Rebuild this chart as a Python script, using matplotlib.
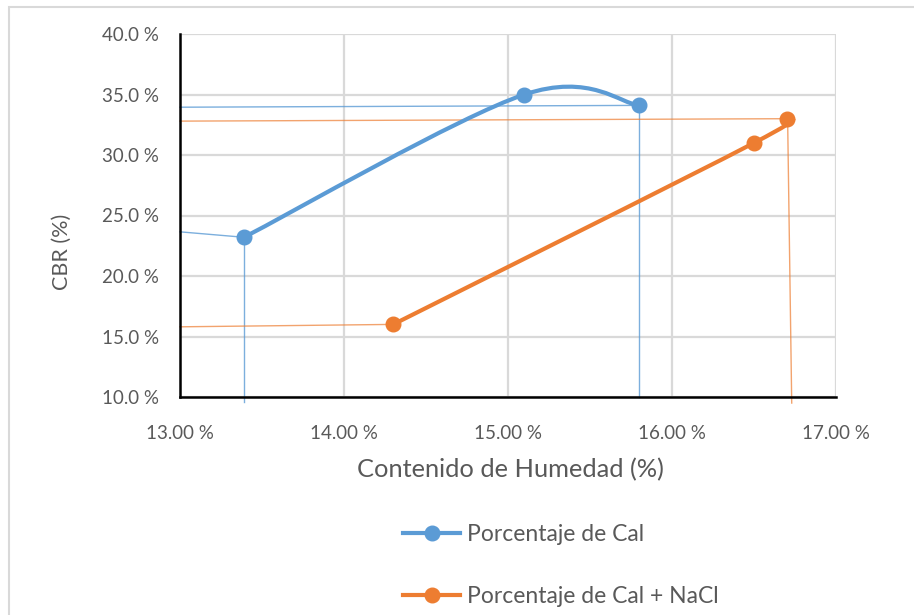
import matplotlib.pyplot as plt
import numpy as np
from matplotlib.path import Path
from matplotlib.patches import PathPatch, Rectangle
from matplotlib.lines import Line2D
from matplotlib.ticker import FuncFormatter

plt.rcParams['font.family'] = ['Lato', 'DejaVu Sans']

# =========================
# data
# =========================
humedad_cal = [13.39, 15.10, 15.80]
cbr_cal = [23.2, 35.0, 34.1]

humedad_nacl = [14.30, 16.50, 16.70]
cbr_nacl = [16.0, 31.0, 33.0]

# guide lines drawn by hand on the original chart (x list, y list)
guias_cal = [
    ([13.00, 15.80], [33.95, 34.10]),
    ([13.00, 13.39], [23.65, 23.20]),
    ([13.39, 13.39], [23.20, 9.60]),
    ([15.80, 15.80], [34.10, 10.00]),
]
guias_nacl = [
    ([13.00, 16.70], [32.80, 33.00]),
    ([13.00, 14.30], [15.80, 16.00]),
    ([16.705, 16.73], [33.00, 9.50]),
]

x_ticks = [13, 14, 15, 16, 17]
y_ticks = [10, 15, 20, 25, 30, 35, 40]

azul = "#5B9BD5"
naranja = "#ED7D31"
gris_txt = "#595959"


def smooth_path(xs, ys):
    # bezier segments like the smoothed line of a spreadsheet chart
    pts = np.column_stack([xs, ys])
    n = len(pts)
    verts = [pts[0]]
    codes = [Path.MOVETO]
    for i in range(n - 1):
        p0 = pts[i - 1] if i > 0 else pts[i]
        p1 = pts[i]
        p2 = pts[i + 1]
        p3 = pts[i + 2] if i + 2 < n else pts[i + 1]
        c1 = p1 + (p2 - p0) / 6.0
        c2 = p2 - (p3 - p1) / 6.0
        verts += [c1, c2, p2]
        codes += [Path.CURVE4] * 3
    return Path(verts, codes)


fig = plt.figure(figsize=(9.14, 6.15), dpi=100)
ax = fig.add_axes([180 / 914, 1 - 397 / 615, 656 / 914, 363 / 615])

# outer chart border (partly outside the picture)
fig.add_artist(Rectangle((9 / 914, -0.2), 1.2, 1.2 - 7 / 615,
                         transform=fig.transFigure, fill=False,
                         edgecolor="#d9d9d9", linewidth=1.5))

for gx, gy in guias_cal:
    ax.plot(gx, gy, color=azul, lw=1.0, alpha=0.8, clip_on=False, zorder=2)
for gx, gy in guias_nacl:
    ax.plot(gx, gy, color=naranja, lw=1.0, alpha=0.7, clip_on=False, zorder=2)

for xs, ys, c in [(humedad_cal, cbr_cal, azul), (humedad_nacl, cbr_nacl, naranja)]:
    ax.add_patch(PathPatch(smooth_path(xs, ys), facecolor="none",
                           edgecolor=c, lw=3.0, capstyle="round", zorder=3))
    ax.plot(xs, ys, linestyle="none", marker="o", markersize=10.5,
            color=c, zorder=4)

ax.set_xlim(13, 17)
ax.set_ylim(10, 40)
ax.set_xticks(x_ticks)
ax.set_yticks(y_ticks)
ax.xaxis.set_major_formatter(FuncFormatter(lambda v, p: f"{v:.2f} %"))
ax.yaxis.set_major_formatter(FuncFormatter(lambda v, p: f"{v:.1f} %"))
ax.tick_params(length=0, labelsize=13.5, labelcolor=gris_txt)
ax.tick_params(axis="x", pad=20)
ax.tick_params(axis="y", pad=15)
ax.grid(True, color="#d9d9d9", lw=1.6)
ax.set_axisbelow(True)
for s in ["top", "right"]:
    ax.spines[s].set_visible(False)
for s in ["left", "bottom"]:
    ax.spines[s].set_color("black")
    ax.spines[s].set_linewidth(1.8)
    ax.spines[s].set_zorder(2.5)

fig.text(510 / 914, 1 - 470 / 615, "Contenido de Humedad (%)", fontsize=18.3,
         color=gris_txt, ha="center", va="center")
fig.text(62 / 914, 1 - 252 / 615, "CBR (%)", fontsize=15.5, color=gris_txt,
         ha="center", va="center", rotation=90)

handles = [
    Line2D([], [], color=azul, lw=3.0, marker="o", markersize=10.5),
    Line2D([], [], color=naranja, lw=3.0, marker="o", markersize=10.5),
]
fig.legend(handles, ["Porcentaje de Cal", "Porcentaje de Cal + NaCl"],
           loc="upper left", bbox_to_anchor=(403 / 914, 1 - 524 / 615),
           frameon=False, fontsize=16.5, labelcolor=gris_txt,
           handlelength=2.5, handletextpad=0.28, labelspacing=1.78,
           borderpad=0, borderaxespad=0)

fig.savefig("out.png", dpi=100)
